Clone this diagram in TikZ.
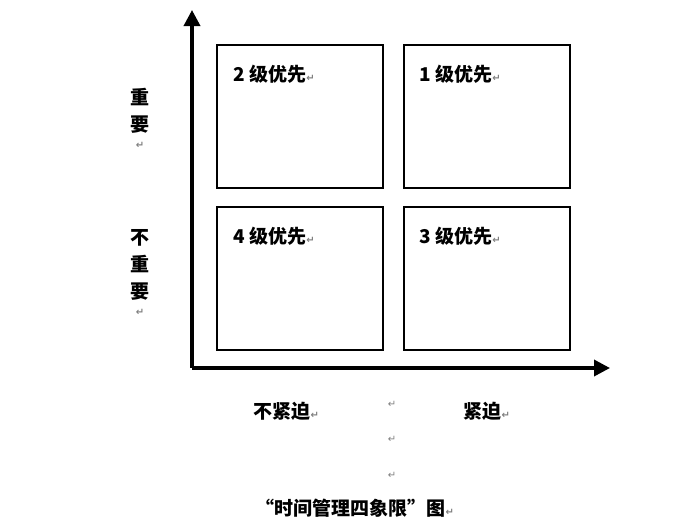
\documentclass[tikz,border=0pt]{standalone}
\usepackage{fontspec}
\newfontfamily\cjk{Noto Sans CJK SC}
\newfontfamily\sym{DejaVu Sans}
\usetikzlibrary{arrows.meta}
\newcommand{\parmark}{{\sym\fontsize{10}{10}\selectfont\color{gray}↵}}
\begin{document}
\begin{tikzpicture}[x=1pt,y=-1pt,
  quad/.style={draw=black,line width=1.6pt,minimum width=166pt,minimum height=143pt,anchor=north west},
  lab/.style={font=\cjk\bfseries\fontsize{19}{19}\selectfont,anchor=west},
  vlab/.style={font=\cjk\bfseries\fontsize{19}{27}\selectfont,anchor=north,align=center,inner sep=0pt},
  axis/.style={line width=3.5pt,-{Triangle[length=16pt,width=16pt]}}]
\useasboundingbox (0,0) rectangle (700,531);
\fill[white] (0,0) rectangle (700,531);
\coordinate (o) at (192,368);
\coordinate (yt) at (192,10);
\coordinate (xt) at (610,368);
\draw[axis] (o) -- (yt);
\draw[axis] (o) -- (xt);
\node[quad] (q2) at (216,44) {};
\node[quad] (q1) at (403,44) {};
\node[quad] (q4) at (216,206) {};
\node[quad] (q3) at (403,206) {};
\node[lab] (t2) at (230,74) {2 级优先\parmark};
\node[lab] (t1) at (416,74) {1 级优先\parmark};
\node[lab] (t4) at (230,236) {4 级优先\parmark};
\node[lab] (t3) at (416,236) {3 级优先\parmark};
\node[vlab] (imp) at (140,88) {重\\要\\[-10pt]\parmark};
\node[vlab] (nimp) at (140,229) {不\\重\\要\\[-10pt]\parmark};
\node[lab] (nu) at (250,411) {不紧迫\parmark};
\node[lab] (u) at (460,411) {紧迫\parmark};
\node (p1) at (392,404) {\parmark};
\node (p2) at (392,439) {\parmark};
\node (p3) at (392,475) {\parmark};
\node[lab] (title) at (252,508) {“时间管理四象限”图\parmark};
\end{tikzpicture}
\end{document}
